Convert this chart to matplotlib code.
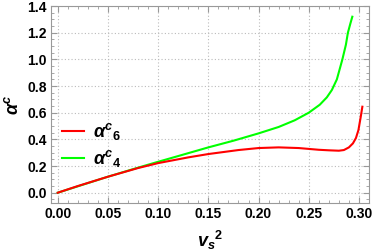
import matplotlib
matplotlib.use("Agg")
import matplotlib.pyplot as plt
from matplotlib.ticker import MultipleLocator

plt.rcParams['font.family'] = ['Liberation Sans', 'DejaVu Sans']
plt.rcParams['mathtext.fontset'] = 'custom'
plt.rcParams['mathtext.it'] = 'Liberation Sans:bold:italic'
plt.rcParams['mathtext.rm'] = 'Liberation Sans:bold'
plt.rcParams['mathtext.bf'] = 'Liberation Sans:bold'

# alpha^c_4 (green)
x4 = [0.0, 0.02, 0.05, 0.08, 0.10, 0.12, 0.15, 0.175, 0.20, 0.22, 0.236,
      0.25, 0.261, 0.268, 0.273, 0.278, 0.2835, 0.287, 0.289, 0.2915, 0.2934]
y4 = [0.0, 0.048, 0.12, 0.188, 0.232, 0.275, 0.34, 0.39, 0.445, 0.493, 0.543,
      0.60, 0.66, 0.715, 0.77, 0.85, 1.0, 1.11, 1.2, 1.27, 1.32]

# alpha^c_6 (red)
x6 = [0.0, 0.02, 0.05, 0.08, 0.10, 0.13, 0.15, 0.18, 0.20, 0.22, 0.24, 0.26,
      0.27, 0.28, 0.285, 0.29, 0.294, 0.297, 0.2995, 0.3018, 0.3034]
y6 = [0.0, 0.05, 0.12, 0.185, 0.222, 0.265, 0.29, 0.32, 0.335, 0.34, 0.335, 0.322,
      0.318, 0.315, 0.32, 0.34, 0.37, 0.41, 0.47, 0.57, 0.645]

fig = plt.figure(figsize=(3.74, 2.52), dpi=100)
ax = fig.add_axes([0.1364, 0.1956, 0.8502, 0.7804])

l4, = ax.plot(x4, y4, color='#00FF00', lw=1.5, label=r'$\alpha^{c}{}_{4}$')
l6, = ax.plot(x6, y6, color='#FF0000', lw=1.5, label=r'$\alpha^{c}{}_{6}$')

ax.set_xlim(-0.0067, 0.310)
ax.set_ylim(-0.075, 1.4)
ax.xaxis.set_major_locator(MultipleLocator(0.05))
ax.xaxis.set_minor_locator(MultipleLocator(0.01))
ax.yaxis.set_major_locator(MultipleLocator(0.2))
ax.yaxis.set_minor_locator(MultipleLocator(0.05))
ax.xaxis.set_major_formatter(matplotlib.ticker.FormatStrFormatter('%.2f'))
ax.yaxis.set_major_formatter(matplotlib.ticker.FormatStrFormatter('%.1f'))

ax.grid(True, which='major', color='#BBBBBB', linestyle=(0, (1, 2)), lw=0.8)
ax.tick_params(which='both', direction='in', top=True, right=True, color='#999999')
ax.tick_params(which='major', length=4, labelsize=10, pad=3)
ax.tick_params(which='minor', length=2)
for lab in ax.get_xticklabels() + ax.get_yticklabels():
    lab.set_fontweight('bold')
for s in ax.spines.values():
    s.set_color('#999999')

ax.set_xlabel(r'$v_{s}{}^{2}$', fontsize=13, labelpad=6)
ax.set_ylabel(r'$\alpha^{c}$', fontsize=13, labelpad=4)

ax.legend(handles=[l6, l4], loc='upper left', bbox_to_anchor=(0.0, 0.47),
          frameon=False, fontsize=13, handlelength=1.2, handletextpad=0.5,
          labelspacing=0.35, borderaxespad=0.2)

fig.savefig('out.png', dpi=100)
